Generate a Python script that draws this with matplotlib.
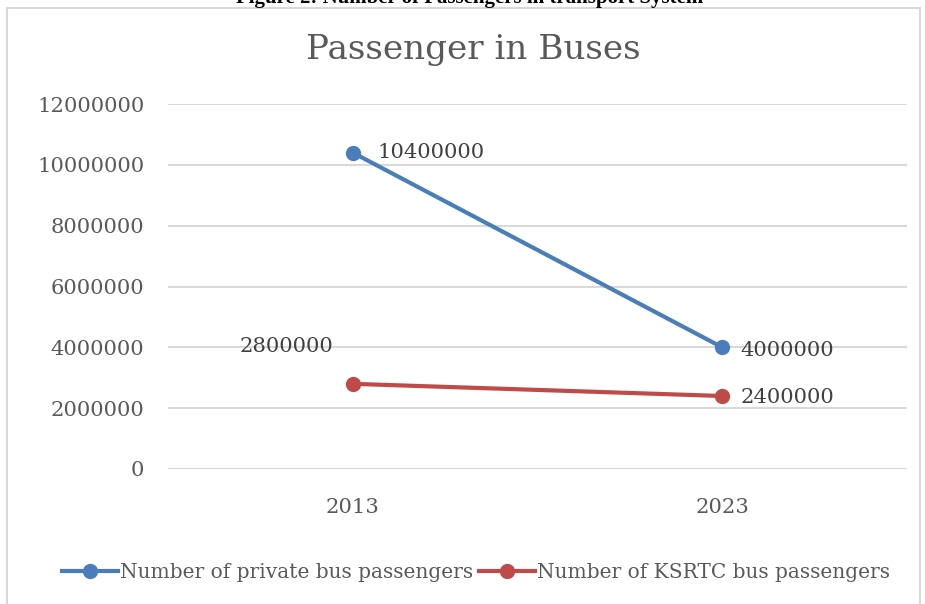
import matplotlib.pyplot as plt
from matplotlib.patches import Rectangle

# Datos
years = ['2013', '2023']
private_bus = [10400000, 4000000]
ksrtc_bus = [2800000, 2400000]
y_ticks = [0, 2000000, 4000000, 6000000, 8000000, 10000000, 12000000]

blue = '#4A7EBB'
red = '#BE4B48'
gray_text = '#595959'

fig = plt.figure(figsize=(9.25, 6.04), dpi=100)
ax = fig.add_axes([168 / 925, 1 - 469 / 604, 739 / 925, 365 / 604])

# Marco del grafico
fig.patches.append(Rectangle((7 / 925, -0.1), 913 / 925, 1.1 - 8 / 604,
                             transform=fig.transFigure, fill=False,
                             edgecolor='#D9D9D9', linewidth=1.5))

x = list(range(len(years)))
ax.plot(x, private_bus, color=blue, linewidth=3, marker='o', markersize=10,
        label='Number of private bus passengers', zorder=3)
ax.plot(x, ksrtc_bus, color=red, linewidth=3, marker='o', markersize=10,
        label='Number of KSRTC bus passengers', zorder=3)

ax.set_xlim(-0.5, len(years) - 0.5)
ax.set_ylim(0, 12000000)
ax.set_xticks(x)
ax.set_xticklabels(years)
ax.set_yticks(y_ticks)
ax.set_yticklabels([str(v) for v in y_ticks])
ax.tick_params(length=0, labelsize=15.2, labelcolor=gray_text, pad=17)
ax.tick_params(axis='x', pad=21)
for lab in ax.get_xticklabels() + ax.get_yticklabels():
    lab.set_family('DejaVu Serif')

ax.grid(axis='y', color='#D9D9D9', linewidth=1.5)
ax.set_axisbelow(True)
for s in ax.spines.values():
    s.set_visible(False)

# Etiquetas de valores
lbl = dict(fontsize=15.2, family='DejaVu Serif', color='#404040', va='center')
ax.annotate(str(private_bus[0]), (x[0], private_bus[0]), xytext=(18, 0),
            textcoords='offset points', ha='left', **lbl)
ax.annotate(str(private_bus[1]), (x[1], private_bus[1]), xytext=(13, -2),
            textcoords='offset points', ha='left', **lbl)
ax.annotate(str(ksrtc_bus[0]), (x[0], ksrtc_bus[0]), xytext=(-14, 27),
            textcoords='offset points', ha='right', **lbl)
ax.annotate(str(ksrtc_bus[1]), (x[1], ksrtc_bus[1]), xytext=(13, -1),
            textcoords='offset points', ha='left', **lbl)

# Titulos
fig.text(473 / 925, 1 - 50 / 604, 'Passenger in Buses', ha='center', va='center',
         fontsize=24.6, family='DejaVu Serif', color=gray_text)
fig.text(470 / 925, 1.003, 'Figure 2: Number of Passengers in transport System',
         ha='center', va='center', fontsize=15, family='Liberation Serif',
         fontweight='bold', color='black')

leg = fig.legend(loc='center', bbox_to_anchor=(476 / 925, 1 - 573 / 604), ncol=2,
                 frameon=False, handlelength=2.8, handletextpad=0.1, columnspacing=0.25,
                 borderpad=0, borderaxespad=0,
                 prop={'family': 'DejaVu Serif', 'size': 14.5})
for t in leg.get_texts():
    t.set_color(gray_text)

plt.savefig('out.png', dpi=100)
